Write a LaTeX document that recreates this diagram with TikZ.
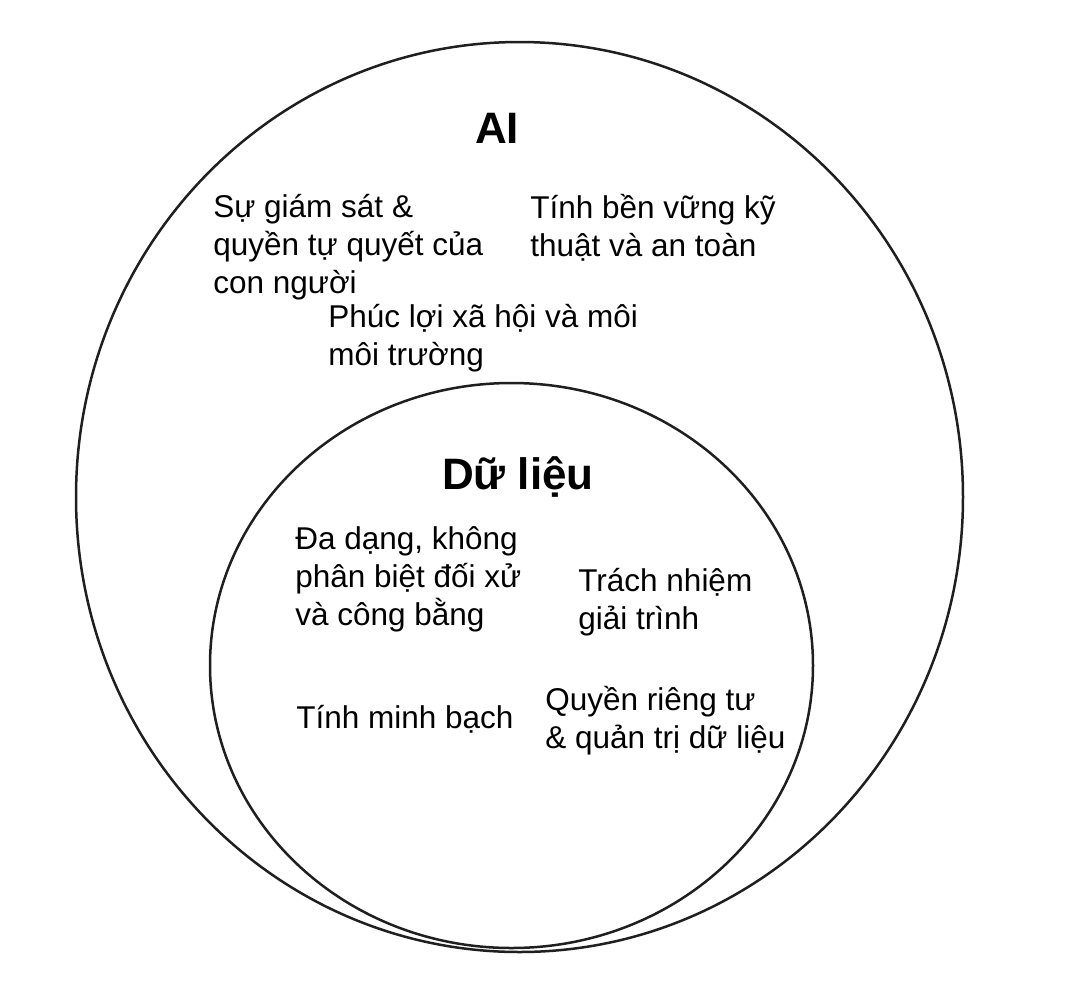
\documentclass[tikz,border=0pt]{standalone}
\usepackage{fontspec}
\setmainfont{Liberation Sans}
\usetikzlibrary{shapes.geometric}
\begin{document}
\begin{tikzpicture}[x=0.5pt,y=-0.5pt,
  ring/.style={draw=black!88, line width=1.25pt, ellipse, inner sep=0pt, fill=none},
  title/.style={inner sep=0pt, font=\bfseries\fontsize{22pt}{26pt}\selectfont},
  item/.style={inner sep=0pt, anchor=west, align=left, font=\fontsize{15.75pt}{19pt}\selectfont}]
\useasboundingbox (0,0) rectangle (1072,992);
\node[ring, minimum width=443.5pt, minimum height=455pt] (outer) at (519.5,497) {};
\node[ring, minimum width=301.5pt, minimum height=282.5pt] (inner) at (511.5,665.5) {};
\node[title] (ai) at (497,128) {AI};
\node[title] (data) at (518,477) {Dữ liệu};
\node[item] (oversight) at (213,247) {Sự giám sát \&\\quyền tự quyết của\\con người};
\node[item] (robust) at (530,228) {Tính bền vững kỹ\\thuật và an toàn};
\node[item] (welfare) at (328,338.5) {Phúc lợi xã hội và môi\\môi trường};
\node[item] (diversity) at (295,579.5) {Đa dạng, không\\phân biệt đối xử\\và công bằng};
\node[item] (account) at (578,602) {Trách nhiệm\\giải trình};
\node[item] (transp) at (296,719) {Tính minh bạch};
\node[item] (privacy) at (545,721) {Quyền riêng tư\\\& quản trị dữ liệu};
\end{tikzpicture}
\end{document}
